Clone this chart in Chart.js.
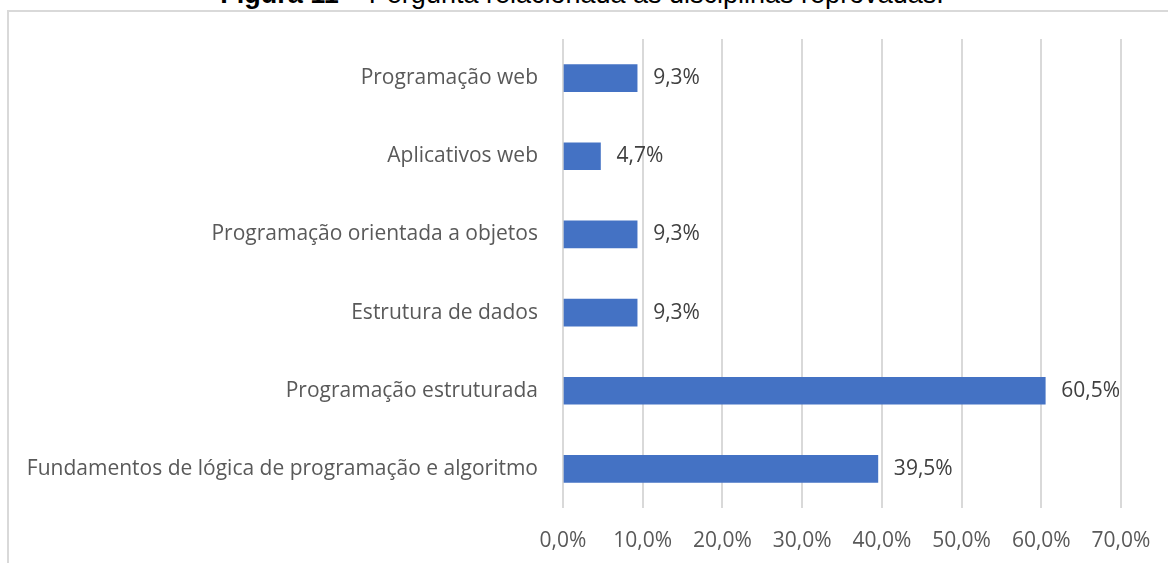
<!DOCTYPE html>
<html>
<head>
<meta charset="utf-8">
<script src="https://cdn.jsdelivr.net/npm/chart.js@4"></script>
<style>
  html, body { margin: 0; padding: 0; background: #fff; overflow: hidden; }
  #frame {
    position: absolute; left: 7px; top: 10px; width: 1300px; height: 700px;
    border-left: 2px solid #d9d9d9; border-top: 2px solid #d9d9d9;
  }
  #caption {
    position: absolute; left: 0; width: 1164px; top: -19px; text-align: center;
    font-family: "Liberation Sans", Arial, sans-serif; font-size: 27px; line-height: 27px;
    color: #000; white-space: nowrap;
  }
  #wrap { position: absolute; left: 0; top: 0; width: 1168px; height: 563px; }
</style>
</head>
<body>
<div id="frame"></div>
<div id="caption"><b>Figura 11</b> – Pergunta relacionada às disciplinas reprovadas.</div>
<div id="wrap"><canvas id="reprovChart"></canvas></div>
<script>
// disciplinas (de cima para baixo)
var disciplinas = [
    'Programação web',
    'Aplicativos web',
    'Programação orientada a objetos',
    'Estrutura de dados',
    'Programação estruturada',
    'Fundamentos de lógica de programação e algoritmo'
];
var percentuais = [9.3, 4.7, 9.3, 9.3, 60.5, 39.5];
var eixoTicks = [0, 10, 20, 30, 40, 50, 60, 70];

function fmtPct(v) {
    return v.toFixed(1).replace('.', ',') + '%';
}

// rotulos de valor ao lado das barras
var rotulosPlugin = {
    id: 'rotulos',
    afterDatasetsDraw: function (chart) {
        var ctx = chart.ctx;
        var meta = chart.getDatasetMeta(0);
        ctx.save();
        ctx.font = '21px "Open Sans", sans-serif';
        ctx.fillStyle = '#404040';
        ctx.textAlign = 'left';
        ctx.textBaseline = 'middle';
        meta.data.forEach(function (bar, i) {
            ctx.fillText(fmtPct(percentuais[i]), bar.x + 16, bar.y);
        });
        ctx.restore();
    }
};

var ctx = document.getElementById('reprovChart').getContext('2d');
var grafico = new Chart(ctx, {
    type: 'bar',
    data: {
        labels: disciplinas,
        datasets: [{
            data: percentuais,
            backgroundColor: '#4472C4',
            barThickness: 27
        }]
    },
    plugins: [rotulosPlugin],
    options: {
        indexAxis: 'y',
        responsive: true,
        maintainAspectRatio: false,
        animation: false,
        layout: { padding: { top: 39, right: 47, bottom: 0, left: 0 } },
        plugins: {
            legend: { display: false },
            tooltip: { enabled: false }
        },
        scales: {
            x: {
                min: 0,
                max: 70,
                afterFit: function (scale) {
                    scale.height = 55;
                    scale.paddingLeft = 0;
                    scale.paddingRight = 0;
                },
                afterBuildTicks: function (scale) {
                    scale.ticks = eixoTicks.map(function (v) { return { value: v }; });
                },
                grid: { color: '#d9d9d9', lineWidth: 2, drawTicks: false },
                border: { display: false },
                ticks: {
                    padding: 20,
                    color: '#595959',
                    font: { family: 'Open Sans', size: 21 },
                    callback: function (v) { return fmtPct(v); }
                }
            },
            y: {
                afterFit: function (scale) { scale.width = 563; },
                grid: { display: false, drawTicks: false },
                border: { display: false },
                ticks: {
                    padding: 25,
                    color: '#595959',
                    font: { family: 'Open Sans', size: 21 }
                }
            }
        }
    }
});
</script>
</body>
</html>
